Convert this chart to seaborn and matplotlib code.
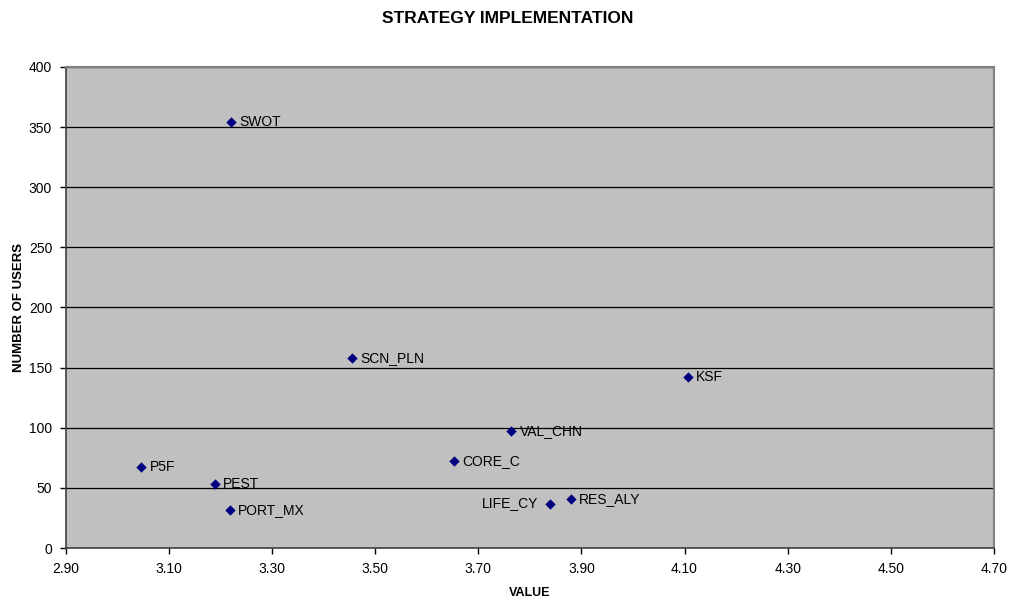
import seaborn as sns
import matplotlib.pyplot as plt
import pandas as pd

# -----------------------------
# 1. Data
# -----------------------------
tools = ["SWOT", "SCN_PLN", "KSF", "VAL_CHN", "CORE_C", "P5F", "PEST", "PORT_MX", "LIFE_CY", "RES_ALY"]
value = [3.220, 3.455, 4.106, 3.764, 3.653, 3.046, 3.189, 3.218, 3.838, 3.879]
users = [354, 158, 142, 97, 72, 67, 53, 32, 37, 41]
label_left = ["LIFE_CY"]

df = pd.DataFrame({"tool": tools, "value": value, "users": users})

# -----------------------------
# 2. Theme
# -----------------------------
sns.set_style("white")
plt.rcParams["font.family"] = ["Liberation Sans", "DejaVu Sans"]
plt.rcParams["text.color"] = "black"
plt.rcParams["axes.labelcolor"] = "black"

fig = plt.figure(figsize=(10.11, 6.03), dpi=100)
ax = fig.add_axes([0.0653, 0.0912, 0.9177, 0.7978])
ax.set_facecolor("#C0C0C0")

# -----------------------------
# 3. Scatter
# -----------------------------
sns.scatterplot(data=df, x="value", y="users", marker="D", s=28,
                color="#000080", edgecolor="#000080", linewidth=0, ax=ax, zorder=3)

for _, r in df.iterrows():
    if r["tool"] in label_left:
        ax.annotate(r["tool"], (r["value"], r["users"]), xytext=(-8, 0),
                    textcoords="offset points", ha="right", va="center", fontsize=10)
    else:
        ax.annotate(r["tool"], (r["value"], r["users"]), xytext=(6, 0),
                    textcoords="offset points", ha="left", va="center", fontsize=10)

ax.set_xlim(2.90, 4.70)
ax.set_ylim(0, 400)
ax.set_xticks([2.90 + 0.2 * i for i in range(10)])
ax.set_xticklabels([f"{2.90 + 0.2 * i:.2f}" for i in range(10)])
ax.set_yticks(range(0, 401, 50))
ax.yaxis.grid(True, color="black", linewidth=0.9)
ax.set_axisbelow(True)
ax.tick_params(axis="both", labelsize=10, length=4, width=1, direction="out",
               bottom=True, left=True, colors="black", pad=6)

for side in ["left", "bottom"]:
    ax.spines[side].set_color("#404040")
    ax.spines[side].set_linewidth(1.2)
for side in ["top", "right"]:
    ax.spines[side].set_color("#808080")
    ax.spines[side].set_linewidth(1.5)

ax.set_xlabel("VALUE", fontsize=9, fontweight="bold", labelpad=8)
ax.set_ylabel("NUMBER OF USERS", fontsize=9.5, fontweight="bold", labelpad=3)
fig.suptitle("STRATEGY IMPLEMENTATION", fontsize=12.5, fontweight="bold", y=0.982, x=0.502)

plt.savefig("out.png", dpi=100, facecolor="white")
plt.close()
